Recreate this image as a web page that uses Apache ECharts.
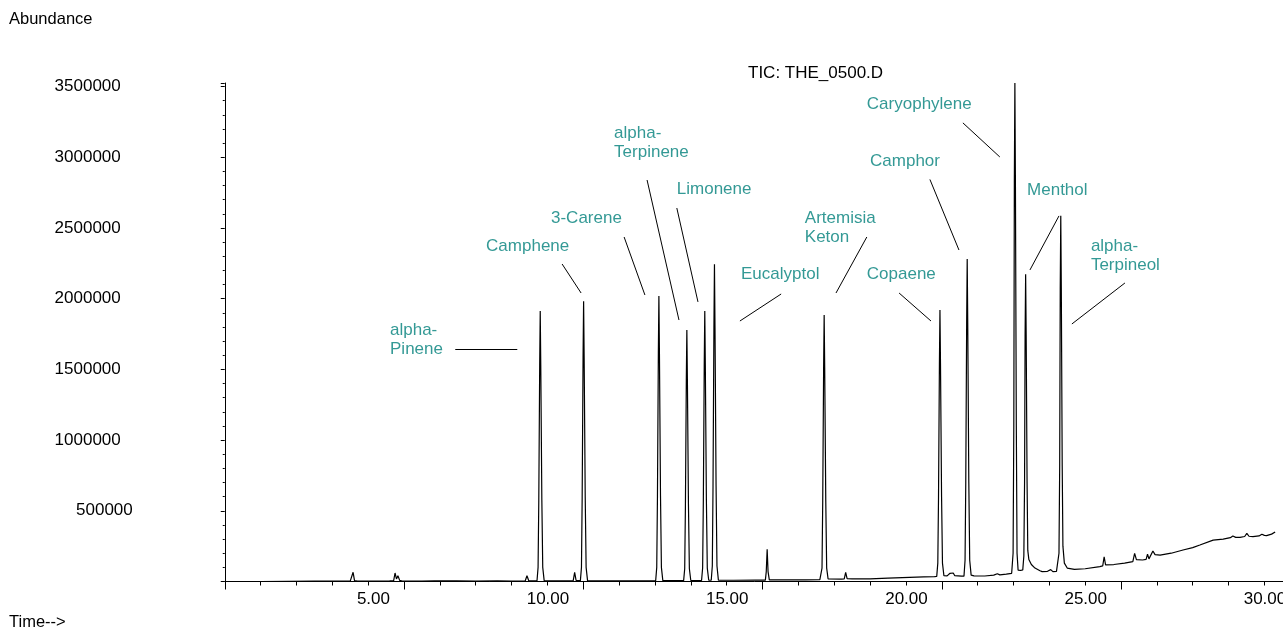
<!DOCTYPE html>
<html>
<head>
<meta charset="utf-8">
<title>TIC: THE_0500.D</title>
<script src="https://cdn.jsdelivr.net/npm/echarts@6.0.0/dist/echarts.min.js"></script>
<style>
  html, body { margin: 0; padding: 0; background: #fff; }
  #chart { width: 1283px; height: 634px; }
</style>
</head>
<body>
<div id="chart"></div>
<script>
// Total ion chromatogram, [retention time (min), abundance]
const traceEarly = [
  [0.06, 0], [1.0, 0], [1.8, 1000], [2.5, 2000], [3.0, 2000], [3.5, 3000],
  [3.55, 4000], [3.58, 65000], [3.62, 6000], [3.7, 3000], [4.2, 3000], [4.6, 4000],
  [4.71, 5000], [4.75, 60000], [4.79, 18000], [4.83, 40000], [4.88, 8000], [4.95, 3000],
  [5.5, 3000], [5.85, 4000], [5.89, 9000], [5.93, 4000], [6.38, 4000], [6.42, 8000],
  [6.46, 4000], [7.0, 3000], [7.6, 4000], [8.0, 3000], [8.38, 4000], [8.43, 41000],
  [8.48, 5000]
];
const traceMonoterpenes = [
  [8.71, 5000], [8.74, 100000], [8.76, 575000], [8.785, 1530000], [8.80, 1913000],
  [8.815, 1530000], [8.845, 575000], [8.87, 100000], [8.91, 6000],
  [9.37, 5000], [9.41, 15000], [9.45, 5000], [9.72, 6000], [9.76, 65000], [9.80, 8000],
  [9.92, 6000], [9.95, 100000], [9.97, 595000], [9.995, 1585000], [10.01, 1981000],
  [10.025, 1585000], [10.055, 595000], [10.08, 100000], [10.12, 6000],
  [11.0, 4000], [11.6, 4000], [11.95, 5000],
  [12.02, 5000], [12.05, 100000], [12.07, 605000], [12.095, 1615000], [12.11, 2019000],
  [12.125, 1615000], [12.155, 605000], [12.18, 100000], [12.22, 6000],
  [12.45, 6000], [12.5, 12000], [12.55, 6000],
  [12.80, 6000], [12.83, 90000], [12.85, 535000], [12.875, 1425000], [12.89, 1779000],
  [12.905, 1425000], [12.935, 535000], [12.96, 90000], [13.0, 7000],
  [13.30, 7000], [13.33, 95000], [13.35, 575000], [13.375, 1530000], [13.39, 1913000],
  [13.405, 1530000], [13.435, 575000], [13.46, 95000], [13.50, 9000], [13.55, 9000],
  [13.57, 9000], [13.60, 110000], [13.62, 675000], [13.645, 1795000], [13.66, 2243000],
  [13.675, 1795000], [13.705, 675000], [13.73, 110000], [13.77, 10000],
  [14.2, 9000], [14.8, 10000], [15.08, 10000], [15.105, 70000], [15.13, 228000],
  [15.155, 70000], [15.19, 12000], [15.6, 11000], [16.2, 12000], [16.6, 13000],
  [16.63, 14000], [16.66, 95000], [16.68, 565000], [16.705, 1510000], [16.72, 1885000],
  [16.735, 1510000], [16.765, 565000], [16.79, 95000], [16.83, 18000],
  [17.2, 17000], [17.28, 18000], [17.32, 65000], [17.36, 20000], [17.5, 18000],
  [18.0, 19000], [18.5, 24000], [18.9, 28000], [19.5, 32000], [19.8, 34000]
];
const traceSesquiterpenes = [
  [19.86, 36000], [19.89, 130000], [19.91, 600000], [19.935, 1540000], [19.95, 1920000],
  [19.965, 1540000], [19.995, 600000], [20.02, 130000], [20.06, 42000],
  [20.15, 40000], [20.2, 42000], [20.23, 58000], [20.27, 44000], [20.32, 60000],
  [20.36, 42000], [20.55, 38000],
  [20.62, 38000], [20.65, 150000], [20.67, 700000], [20.695, 1830000], [20.71, 2281000],
  [20.725, 1830000], [20.755, 700000], [20.78, 150000], [20.82, 45000],
  [20.9, 40000], [21.2, 39000], [21.45, 45000], [21.55, 55000], [21.62, 47000],
  [21.8, 52000], [21.95, 58000],
  [21.96, 58000], [21.99, 200000], [22.01, 1100000], [22.025, 2820000], [22.04, 3525000],
  [22.055, 2820000], [22.08, 1100000], [22.1, 200000], [22.13, 80000],
  [22.2, 78000], [22.26, 82000],
  [22.27, 82000], [22.29, 180000], [22.31, 700000], [22.325, 1740000], [22.34, 2172000],
  [22.355, 1740000], [22.38, 700000], [22.40, 220000], [22.43, 155000], [22.5, 120000],
  [22.6, 95000], [22.74, 76000], [22.8, 70000], [22.95, 72000], [23.04, 84000],
  [23.1, 70000], [23.2, 72000],
  [23.24, 72000], [23.27, 200000], [23.29, 820000], [23.305, 2070000], [23.32, 2587000],
  [23.335, 2070000], [23.36, 820000], [23.38, 250000], [23.42, 130000], [23.5, 95000],
  [23.7, 86000], [24.0, 90000], [24.41, 105000]
];
const traceLate = [
  [24.49, 110000], [24.53, 175000], [24.57, 118000], [24.8, 120000], [25.1, 130000],
  [25.33, 140000], [25.38, 199000], [25.43, 155000], [25.6, 152000], [25.7, 156000],
  [25.74, 194000], [25.78, 160000], [25.83, 165000], [25.89, 216000], [25.95, 190000],
  [26.09, 187000], [26.4, 200000], [26.73, 223000], [27.0, 240000], [27.2, 258000],
  [27.57, 293000], [27.85, 300000], [28.05, 310000], [28.12, 322000], [28.2, 312000],
  [28.32, 312000], [28.45, 318000], [28.51, 341000], [28.57, 320000], [28.68, 317000],
  [28.85, 322000], [28.93, 334000], [29.0, 326000], [29.06, 324000], [29.2, 335000],
  [29.30, 350000]
];

// Axis tick labels
const timeTickLabels = [5, 10, 15, 20, 25, 30];
const abundanceTickLabels = [500000, 1000000, 1500000, 2000000, 2500000, 3000000, 3500000];

// Compound annotations
const compoundNames = [
  'alpha-\nPinene', 'Camphene', '3-Carene', 'alpha-\nTerpinene', 'Limonene', 'Eucalyptol',
  'Artemisia\nKeton', 'Copaene', 'Camphor', 'Caryophylene', 'Menthol', 'alpha-\nTerpineol'
];

// Annotation layout in data units: text top-left corner and leader line ends
const labelAnchors = [
  [4.61, 1840000], [7.29, 2440000], [9.10, 2638000], [10.86, 3239000],
  [12.61, 2843000], [14.40, 2242000], [16.18, 2638000], [17.91, 2242000],
  [18.00, 3041000], [17.91, 3444000], [22.38, 2836000], [24.16, 2440000]
];
const leaderLines = [
  [[6.43, 1644000], [8.16, 1644000]],
  [[9.41, 2245000], [9.94, 2040000]],
  [[11.14, 2436000], [11.72, 2026000]],
  [[11.78, 2839000], [12.67, 1849000]],
  [[12.61, 2641000], [13.20, 1977000]],
  [[15.52, 2033000], [14.37, 1842000]],
  [[17.91, 2436000], [17.05, 2040000]],
  [[18.81, 2040000], [19.70, 1842000]],
  [[19.67, 2843000], [20.48, 2344000]],
  [[20.59, 3243000], [21.62, 3002000]],
  [[23.27, 2585000], [22.46, 2203000]],
  [[25.11, 2111000], [23.63, 1821000]]
];

const FONT = "'Liberation Sans', Arial, Helvetica, sans-serif";
const TEAL = '#007f7b';
const Y_MAX = 3525000;

const trace = traceEarly.concat(traceMonoterpenes, traceSesquiterpenes, traceLate);

const chart = echarts.init(document.getElementById('chart'), null, { renderer: 'canvas' });

chart.setOption({
  animation: false,
  backgroundColor: '#ffffff',
  title: {
    text: 'TIC: THE_0500.D',
    left: 748,
    top: 65,
    padding: 0,
    textStyle: { fontFamily: FONT, fontSize: 17, fontWeight: 'normal', color: '#000' }
  },
  graphic: [
    { type: 'text', left: 9, top: 11, silent: true,
      style: { text: 'Abundance', font: '16.5px ' + FONT, fill: '#000' } },
    { type: 'text', left: 9, top: 614, silent: true,
      style: { text: 'Time-->', font: '16.5px ' + FONT, fill: '#000' } }
  ],
  grid: {
    left: 224.75,
    top: 83,
    width: 1075.5,
    height: 498.5,
    containLabel: false,
    outerBoundsMode: 'none'
  },
  xAxis: {
    type: 'value',
    min: 0,
    max: 30,
    interval: 5,
    splitLine: { show: false },
    axisLine: { show: true, onZero: false, lineStyle: { color: '#000', width: 1 } },
    axisTick: { show: true, length: 8, lineStyle: { color: '#000', width: 1 } },
    minorTick: { show: true, splitNumber: 5, length: 4, lineStyle: { color: '#000', width: 1 } },
    minorSplitLine: { show: false },
    axisLabel: {
      show: true,
      margin: 9,
      align: 'right',
      padding: [0, 14, 0, 0],
      fontFamily: FONT,
      fontSize: 17,
      color: '#000',
      showMinLabel: true,
      showMaxLabel: true,
      formatter: v => (timeTickLabels.indexOf(v) >= 0 ? v.toFixed(2) : '')
    }
  },
  yAxis: {
    type: 'value',
    min: 0,
    max: Y_MAX,
    interval: 500000,
    splitLine: { show: false },
    axisLine: { show: true, onZero: false, lineStyle: { color: '#000', width: 1 } },
    axisTick: { show: true, length: 4, lineStyle: { color: '#000', width: 1 } },
    minorTick: { show: true, splitNumber: 5, length: 2, lineStyle: { color: '#000', width: 1 } },
    minorSplitLine: { show: false },
    axisLabel: {
      show: true,
      margin: 92,
      align: 'right',
      fontFamily: FONT,
      fontSize: 17,
      color: '#000',
      formatter: v => {
        if (abundanceTickLabels.indexOf(v) < 0) return '';
        return String(v).length > 6 ? '{wide|' + v + '}' : '{narrow|' + v + '}';
      },
      rich: {
        wide: { fontFamily: FONT, fontSize: 17, color: '#000', padding: [0, 12, 0, 0] },
        narrow: { fontFamily: FONT, fontSize: 17, color: '#000' }
      }
    }
  },
  series: [
    {
      name: 'TIC',
      type: 'line',
      data: trace,
      showSymbol: false,
      symbol: 'none',
      silent: true,
      sampling: 'none',
      lineStyle: { color: '#000', width: 1.2 },
      markLine: {
        silent: true,
        symbol: ['none', 'none'],
        label: { show: false },
        lineStyle: { color: '#000', width: 1, type: 'solid' },
        emphasis: { disabled: true },
        data: leaderLines.map(seg => [{ coord: seg[0] }, { coord: seg[1] }])
      }
    },
    {
      name: 'compounds',
      type: 'scatter',
      silent: true,
      symbolSize: 0,
      data: labelAnchors.map((p, i) => [p[0], p[1], compoundNames[i]]),
      label: {
        show: true,
        position: [0, 0],
        align: 'left',
        verticalAlign: 'top',
        fontFamily: FONT,
        fontSize: 17,
        lineHeight: 19,
        color: TEAL,
        formatter: p => p.value[2]
      },
      emphasis: { disabled: true }
    }
  ]
});
</script>
</body>
</html>
